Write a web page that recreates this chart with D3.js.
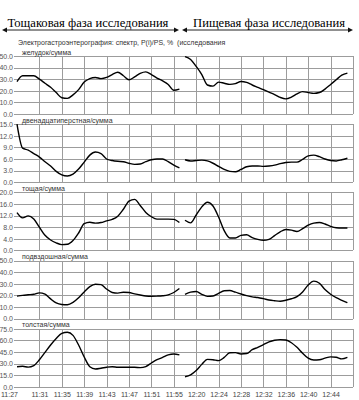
<!DOCTYPE html>
<html>
<head>
<meta charset="utf-8">
<script src="https://cdnjs.cloudflare.com/ajax/libs/d3/7.8.5/d3.min.js"></script>
<style>
  body { margin: 0; background: #fff; }
  svg { display: block; font-family: "Liberation Sans", Arial, sans-serif; }
  .grid line { stroke: #9c9c9c; stroke-width: 1; shape-rendering: crispEdges; }
  .grid path { display: none; }
  .ylab text { fill: #555; font-size: 7px; }
  .xlab text { fill: #444; font-size: 7px; }
  .xlab path, .xlab line { display: none; }
</style>
</head>
<body>
<div id="chart"></div>
<script>
// time axis labels
const leftTicks = ["11:27", "11:31", "11:35", "11:39", "11:43", "11:47", "11:51", "11:55"];
const rightTicks = ["12:20", "12:24", "12:28", "12:32", "12:36", "12:40", "12:44"];
const rightEnd = "12:48";
const rightStart = "12:16";

// sample times (one per minute)
const fastTimes = ["11:27", "11:28", "11:29", "11:30", "11:31", "11:32", "11:33", "11:34", "11:35", "11:36",
  "11:37", "11:38", "11:39", "11:40", "11:41", "11:42", "11:43", "11:44", "11:45", "11:46",
  "11:47", "11:48", "11:49", "11:50", "11:51", "11:52", "11:53", "11:54", "11:55", "11:56"];
const foodTimes = ["12:18", "12:19", "12:20", "12:21", "12:22", "12:23", "12:24", "12:25", "12:26", "12:27",
  "12:28", "12:29", "12:30", "12:31", "12:32", "12:33", "12:34", "12:35", "12:36", "12:37",
  "12:38", "12:39", "12:40", "12:41", "12:42", "12:43", "12:44", "12:45", "12:46", "12:47"];

// panel names and y tick values
const panelNames = ["желудок/сумма", "двенадцатиперстная/сумма", "тощая/сумма", "подвздошная/сумма", "толстая/сумма"];
const panelTicks = [
  [0, 10, 20, 30, 40, 50],
  [0, 3, 6, 9, 12, 15],
  [0, 4, 8, 12, 16, 20],
  [0, 10, 20, 30, 40, 50],
  [0, 15, 30, 45, 60, 75]
];

// series values, fasting phase then food phase
const stomachFast = [28, 33, 33, 33, 30, 26.5, 23, 18.5, 14, 13.5, 16.5, 21, 27.5, 30.5, 31.5,
  30.5, 31.5, 34, 36, 33, 29.5, 32, 35, 36.3, 34, 31, 28.5, 25.5, 20.5, 21.5];
const stomachFood = [49.4, 47, 41, 34, 25, 24, 27.5, 26.5, 25.5, 26.2, 28, 27.2, 25, 23, 21,
  18.8, 16.8, 14.3, 13, 14.5, 17.3, 19.3, 18.5, 17.8, 18.5, 21.5, 25.5, 29.5, 33.5, 35.2];
const duodenumFast = [15, 8.8, 8.3, 7.4, 6.5, 5.3, 4.2, 2.8, 1.9, 1.6, 2.1, 3.4, 5.2, 7.0, 7.8,
  7.4, 6.0, 5.6, 5.4, 5.3, 4.9, 4.6, 4.7, 5.3, 5.8, 6.0, 6.0, 5.3, 4.4, 3.7];
const duodenumFood = [5.8, 5.5, 5.6, 5.7, 5.5, 4.9, 4.1, 3.3, 2.8, 2.7, 3.3, 4.0, 4.2, 4.2, 4.1,
  4.2, 4.4, 4.8, 5.1, 5.2, 5.2, 5.9, 6.8, 7.0, 6.6, 6.0, 5.6, 5.5, 5.8, 6.2];
const jejunumFast = [13, 11.2, 11.9, 10.8, 8.0, 5.2, 3.6, 2.6, 2.0, 2.1, 3.4, 6.0, 9.2, 9.7, 9.4,
  9.6, 10.2, 10.7, 11.8, 14.2, 17.0, 17.6, 15.5, 13.1, 11.6, 10.8, 10.8, 10.8, 10.7, 9.6];
const jejunumFood = [10.4, 9.5, 12.2, 15.0, 16.6, 15.3, 11.5, 6.8, 4.3, 4.3, 5.2, 5.4, 4.4, 3.8, 3.5,
  3.8, 5.1, 6.4, 7.2, 7.0, 6.5, 7.5, 8.7, 9.4, 9.6, 9.1, 8.3, 7.8, 7.7, 7.7];
const ileumFast = [19.4, 20, 20.5, 21, 22.2, 21, 17, 13.5, 12.2, 12, 14, 18, 23, 27.5, 29.6,
  29.3, 25.5, 22.5, 22, 22.7, 22.5, 21.3, 20.3, 19.5, 19.3, 19.4, 19.7, 20.5, 22.5, 25.9];
const ileumFood = [20.9, 22.8, 23.3, 20.9, 19.2, 19.5, 21.8, 24, 24.2, 22.8, 21.2, 19.8, 18.7, 18.2, 17.2,
  16, 15.4, 15, 15.8, 17.1, 18.9, 23, 29, 32.3, 30.5, 25, 21, 18, 15.8, 13.7];
const colonFast = [26, 26.5, 25.5, 27.5, 35, 44.5, 54, 62.5, 69, 70.5, 66.5, 54, 38.5, 26, 23,
  24, 25.3, 26, 25.3, 25.2, 25.2, 25.2, 24.8, 26.2, 30.8, 35, 38, 41.3, 42.5, 41.3];
const colonFood = [13, 15.5, 21, 29, 35.5, 35, 33.8, 38, 44, 44.2, 42.5, 43, 48, 51, 54.5,
  58, 60.2, 61, 60.5, 57, 51, 43.5, 37, 34.7, 35, 37, 38.7, 38.2, 36.1, 38];

const fastSeries = [stomachFast, duodenumFast, jejunumFast, ileumFast, colonFast];
const foodSeries = [stomachFood, duodenumFood, jejunumFood, ileumFood, colonFood];

// layout
const width = 359, height = 400;
const plotLeft = 17;
const cell = 22.4;          // one 4-minute grid step
const plotW = cell * 15;
const panelH = 58, panelStep = 68.2, firstTop = 56;

const parseTime = d3.timeParse("%H:%M");

const svg = d3.select("#chart")
  .append("svg")
  .attr("width", width)
  .attr("height", height);

// two time scales, one per phase
const xLeft = d3.scaleTime()
  .domain([parseTime(leftTicks[0]), parseTime(leftTicks[leftTicks.length - 1])])
  .range([plotLeft, plotLeft + 7 * cell]);
const xRight = d3.scaleTime()
  .domain([parseTime(rightStart), parseTime(rightEnd)])
  .range([plotLeft + 7 * cell, plotLeft + 15 * cell]);

// header with arrows
function arrow(x1, x2, yy) {
  svg.append("line")
    .attr("x1", x1 + 3).attr("x2", x2 - 3)
    .attr("y1", yy).attr("y2", yy)
    .attr("stroke", "#222").attr("stroke-width", 1);
  svg.append("path")
    .attr("d", `M${x1},${yy} L${x1 + 5},${yy - 2.5} L${x1 + 5},${yy + 2.5} Z`)
    .attr("fill", "#111");
  svg.append("path")
    .attr("d", `M${x2},${yy} L${x2 - 5},${yy - 2.5} L${x2 - 5},${yy + 2.5} Z`)
    .attr("fill", "#111");
}
arrow(2, 179, 30);
arrow(182, 353, 30);

svg.append("text")
  .attr("x", 88).attr("y", 26.5)
  .attr("text-anchor", "middle")
  .style("font-family", "'Liberation Serif', 'Times New Roman', serif")
  .style("font-size", "12.6px")
  .text("Тощаковая фаза исследования");
svg.append("text")
  .attr("x", 269).attr("y", 26.5)
  .attr("text-anchor", "middle")
  .style("font-family", "'Liberation Serif', 'Times New Roman', serif")
  .style("font-size", "12.6px")
  .text("Пищевая фаза исследования");

svg.append("text")
  .attr("x", 18).attr("y", 45)
  .style("font-size", "7px")
  .style("fill", "#333")
  .style("white-space", "pre")
  .text("Электрогастроэнтерография: спектр, P(i)/PS, %  (исследования");

const line = d3.line()
  .curve(d3.curveMonotoneX);

panelNames.forEach((name, i) => {
  const top = firstTop + i * panelStep;
  const ticks = panelTicks[i];
  const y = d3.scaleLinear()
    .domain([0, ticks[ticks.length - 1]])
    .range([top + panelH, top]);

  const g = svg.append("g");

  // vertical grid
  g.append("g")
    .attr("class", "grid")
    .attr("transform", `translate(0,${top + panelH})`)
    .call(d3.axisBottom(xLeft).tickValues(leftTicks.slice(1).map(parseTime)).tickSize(-panelH).tickFormat(""));
  g.append("g")
    .attr("class", "grid")
    .attr("transform", `translate(0,${top + panelH})`)
    .call(d3.axisBottom(xRight).tickValues(rightTicks.concat([rightEnd]).map(parseTime)).tickSize(-panelH).tickFormat(""));

  // horizontal grid + y labels
  g.append("g")
    .attr("class", "grid ylab")
    .attr("transform", `translate(${plotLeft - 3},0)`)
    .call(d3.axisLeft(y).tickValues(ticks).tickSize(-(plotW + 3)).tickPadding(1).tickFormat(d3.format(".1f")));

  g.append("text")
    .attr("x", 22).attr("y", top - 1.5)
    .style("font-size", "7px")
    .style("fill", "#333")
    .text(name);

  g.append("path")
    .attr("d", line.x((d, k) => xLeft(parseTime(fastTimes[k]))).y(d => y(d))(fastSeries[i]))
    .attr("fill", "none").attr("stroke", "#000").attr("stroke-width", 1.4);
  g.append("path")
    .attr("d", line.x((d, k) => xRight(parseTime(foodTimes[k]))).y(d => y(d))(foodSeries[i]))
    .attr("fill", "none").attr("stroke", "#000").attr("stroke-width", 1.4);
});

// bottom time labels
const bottom = firstTop + 4 * panelStep + panelH;
const fmt = d3.timeFormat("%H:%M");
const xl = svg.append("g")
  .attr("class", "xlab")
  .attr("transform", `translate(0,${bottom})`)
  .call(d3.axisBottom(xLeft).tickValues(leftTicks.map(parseTime)).tickSize(0).tickPadding(5).tickFormat(fmt));
xl.selectAll(".tick text").filter((d, k) => k === 0).attr("dx", -8);
svg.append("g")
  .attr("class", "xlab")
  .attr("transform", `translate(0,${bottom})`)
  .call(d3.axisBottom(xRight).tickValues(rightTicks.map(parseTime)).tickSize(0).tickPadding(5).tickFormat(fmt));
</script>
</body>
</html>
